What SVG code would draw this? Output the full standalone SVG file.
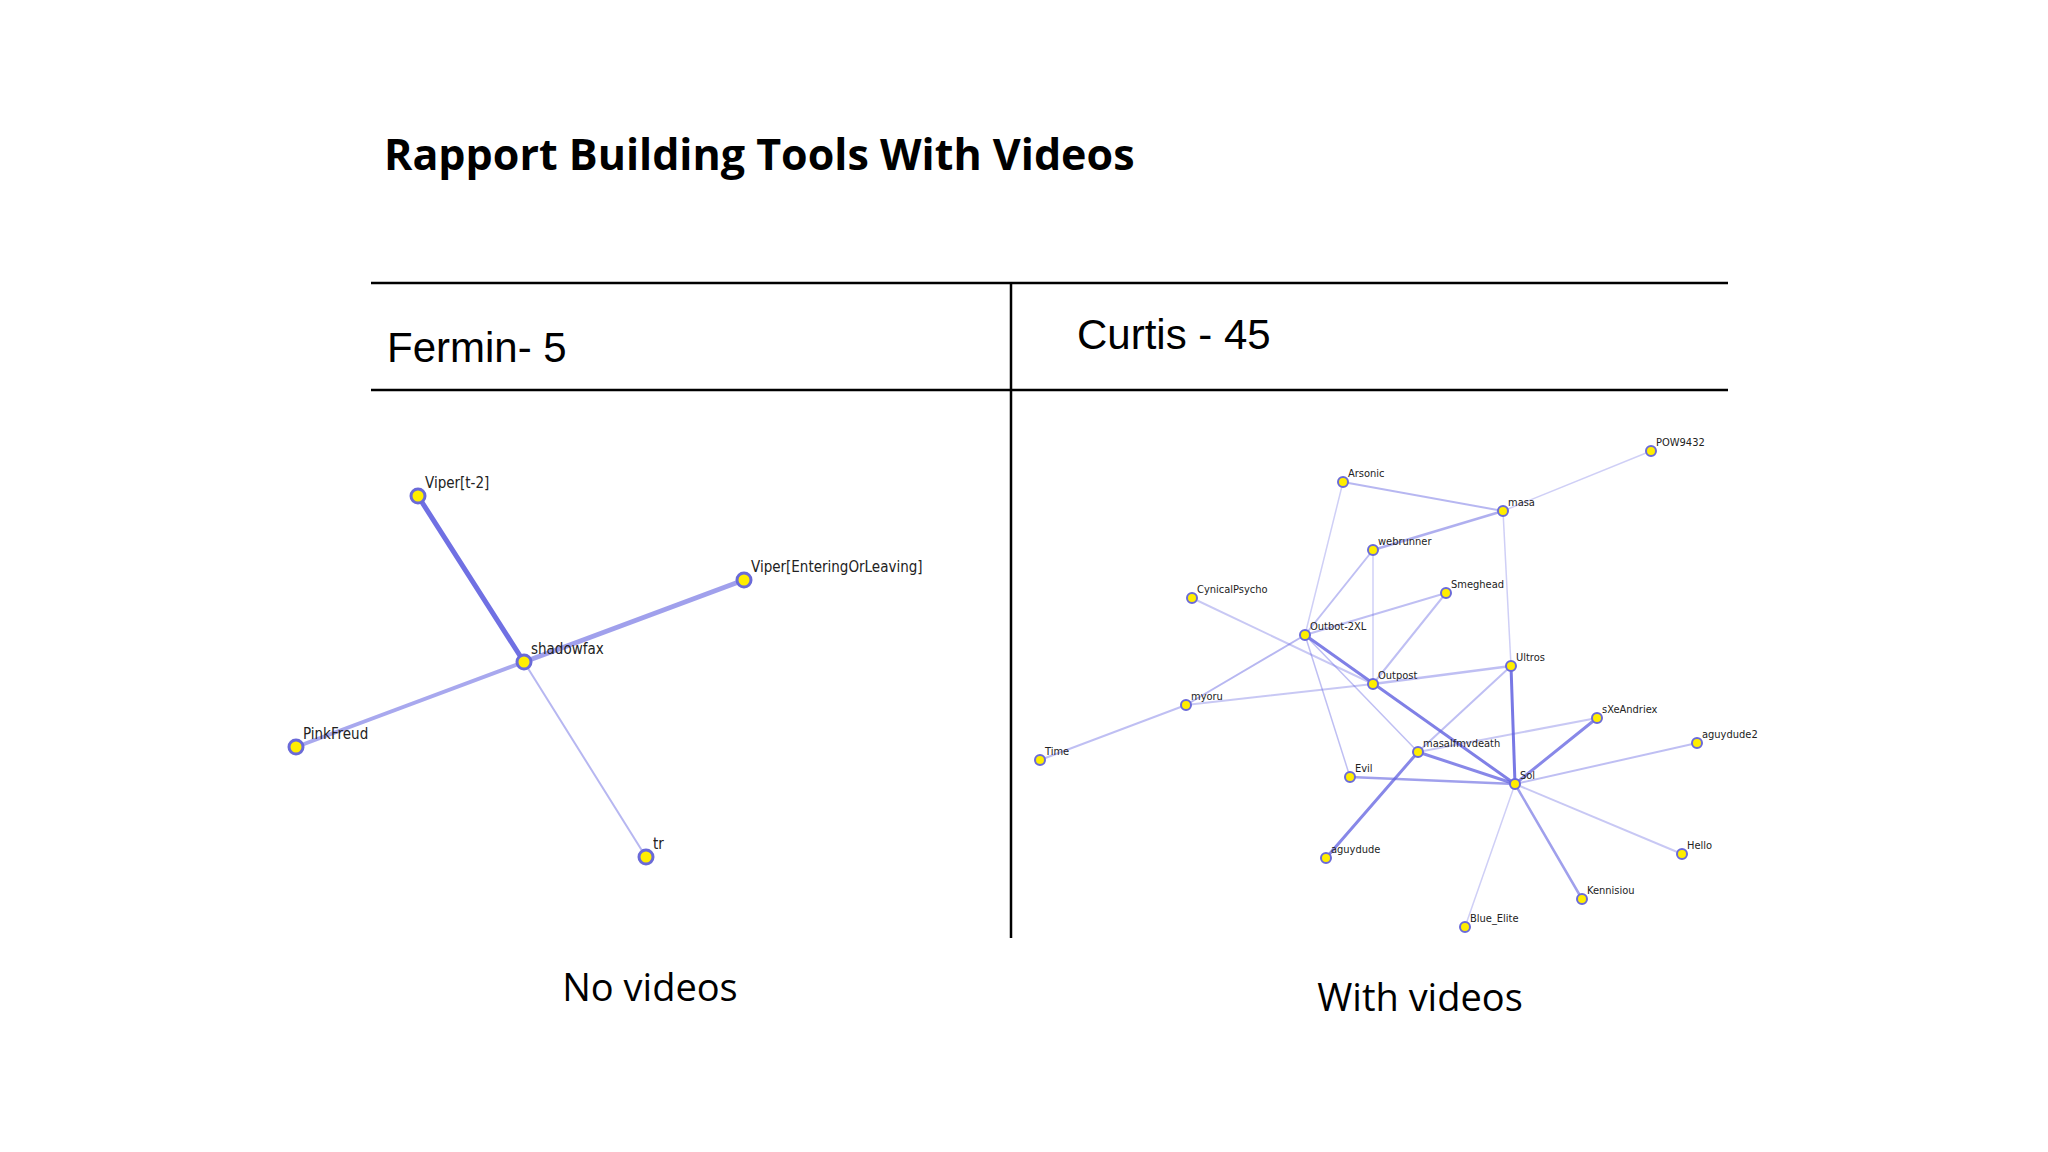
<svg xmlns="http://www.w3.org/2000/svg" width="2048" height="1152" viewBox="0 0 2048 1152">
<style>
.t{font-family:"Liberation Sans",Arial,sans-serif;fill:#000}
.c{font-family:"Open Sans","Liberation Sans",sans-serif;fill:#000}
.lbl{font-family:"DejaVu Sans Condensed","Liberation Sans",sans-serif;fill:#222}
.n circle{fill:#ffee00;stroke:#6a6ad8}
.e line{stroke:#6060e0;stroke-linecap:round}
</style>
<rect width="2048" height="1152" fill="#fff"/>
<text x="384" y="170" class="c" font-size="43" font-weight="bold">Rapport Building Tools With Videos</text>
<g stroke="#000" stroke-width="2.5">
<line x1="371" y1="283" x2="1728" y2="283"/>
<line x1="371" y1="390" x2="1728" y2="390"/>
<line x1="1011" y1="283" x2="1011" y2="938"/>
</g>
<text x="387" y="362" class="t" font-size="42">Fermin- 5</text>
<text x="1077" y="349" class="t" font-size="42">Curtis - 45</text>
<text x="650" y="1001" class="c" font-size="38" text-anchor="middle">No videos</text>
<text x="1420" y="1011" class="c" font-size="38" text-anchor="middle">With videos</text>

<g id="connectors" class="e">
<line x1="524" y1="662" x2="418" y2="496" stroke-width="5" stroke-opacity="0.9"/>
<line x1="524" y1="662" x2="744" y2="580" stroke-width="5" stroke-opacity="0.6"/>
<line x1="524" y1="662" x2="296" y2="747" stroke-width="4" stroke-opacity="0.55"/>
<line x1="524" y1="662" x2="646" y2="857" stroke-width="2" stroke-opacity="0.45"/>

<line x1="1343" y1="482" x2="1503" y2="511" stroke-width="2" stroke-opacity="0.45"/>
<line x1="1503" y1="511" x2="1651" y2="451" stroke-width="1.5" stroke-opacity="0.3"/>
<line x1="1503" y1="511" x2="1373" y2="550" stroke-width="2.5" stroke-opacity="0.5"/>
<line x1="1503" y1="511" x2="1511" y2="666" stroke-width="1.5" stroke-opacity="0.3"/>
<line x1="1343" y1="482" x2="1305" y2="635" stroke-width="1.5" stroke-opacity="0.3"/>
<line x1="1373" y1="550" x2="1305" y2="635" stroke-width="2" stroke-opacity="0.4"/>
<line x1="1373" y1="550" x2="1373" y2="684" stroke-width="1.5" stroke-opacity="0.3"/>
<line x1="1446" y1="593" x2="1305" y2="635" stroke-width="2" stroke-opacity="0.4"/>
<line x1="1446" y1="593" x2="1373" y2="684" stroke-width="2" stroke-opacity="0.4"/>
<line x1="1192" y1="598" x2="1373" y2="684" stroke-width="2" stroke-opacity="0.35"/>
<line x1="1305" y1="635" x2="1515" y2="784" stroke-width="3" stroke-opacity="0.8"/>
<line x1="1305" y1="635" x2="1418" y2="752" stroke-width="1.5" stroke-opacity="0.4"/>
<line x1="1305" y1="635" x2="1350" y2="777" stroke-width="1.5" stroke-opacity="0.4"/>
<line x1="1305" y1="635" x2="1186" y2="705" stroke-width="2" stroke-opacity="0.45"/>
<line x1="1186" y1="705" x2="1373" y2="684" stroke-width="2" stroke-opacity="0.35"/>
<line x1="1373" y1="684" x2="1511" y2="666" stroke-width="2.5" stroke-opacity="0.4"/>
<line x1="1186" y1="705" x2="1040" y2="760" stroke-width="2" stroke-opacity="0.4"/>
<line x1="1511" y1="666" x2="1515" y2="784" stroke-width="3" stroke-opacity="0.85"/>
<line x1="1511" y1="666" x2="1418" y2="752" stroke-width="2" stroke-opacity="0.4"/>
<line x1="1418" y1="752" x2="1597" y2="718" stroke-width="2" stroke-opacity="0.35"/>
<line x1="1418" y1="752" x2="1515" y2="784" stroke-width="3" stroke-opacity="0.75"/>
<line x1="1418" y1="752" x2="1326" y2="858" stroke-width="3" stroke-opacity="0.75"/>
<line x1="1597" y1="718" x2="1515" y2="784" stroke-width="3" stroke-opacity="0.75"/>
<line x1="1515" y1="784" x2="1697" y2="743" stroke-width="2" stroke-opacity="0.4"/>
<line x1="1515" y1="784" x2="1350" y2="777" stroke-width="2.5" stroke-opacity="0.6"/>
<line x1="1515" y1="784" x2="1682" y2="854" stroke-width="2" stroke-opacity="0.35"/>
<line x1="1515" y1="784" x2="1582" y2="899" stroke-width="2.5" stroke-opacity="0.6"/>
<line x1="1515" y1="784" x2="1465" y2="927" stroke-width="1.5" stroke-opacity="0.3"/>
</g>

<g class="n" stroke-width="3">
<g id="n-viper-t2"><circle cx="418" cy="496" r="7" stroke-width="3"/><text x="425" y="488" class="lbl" font-size="15">Viper[t-2]</text></g>
<g id="n-shadowfax"><circle cx="524" cy="662" r="7" stroke-width="3"/><text x="531" y="654" class="lbl" font-size="15">shadowfax</text></g>
<g id="n-viper-eol"><circle cx="744" cy="580" r="7" stroke-width="3"/><text x="751" y="572" class="lbl" font-size="15">Viper[EnteringOrLeaving]</text></g>
<g id="n-pinkfreud"><circle cx="296" cy="747" r="7" stroke-width="3"/><text x="303" y="739" class="lbl" font-size="15">PinkFreud</text></g>
<g id="n-tr"><circle cx="646" cy="857" r="7" stroke-width="3"/><text x="653" y="849" class="lbl" font-size="15">tr</text></g>
</g>

<g class="n">
<g id="n-pow9432"><circle cx="1651" cy="451" r="5" stroke-width="2"/><text x="1656" y="446" class="lbl" font-size="11">POW9432</text></g>
<g id="n-arsonic"><circle cx="1343" cy="482" r="5" stroke-width="2"/><text x="1348" y="477" class="lbl" font-size="11">Arsonic</text></g>
<g id="n-masa"><circle cx="1503" cy="511" r="5" stroke-width="2"/><text x="1508" y="506" class="lbl" font-size="11">masa</text></g>
<g id="n-webrunner"><circle cx="1373" cy="550" r="5" stroke-width="2"/><text x="1378" y="545" class="lbl" font-size="11">webrunner</text></g>
<g id="n-cynicalpsycho"><circle cx="1192" cy="598" r="5" stroke-width="2"/><text x="1197" y="593" class="lbl" font-size="11">CynicalPsycho</text></g>
<g id="n-smeghead"><circle cx="1446" cy="593" r="5" stroke-width="2"/><text x="1451" y="588" class="lbl" font-size="11">Smeghead</text></g>
<g id="n-outbot"><circle cx="1305" cy="635" r="5" stroke-width="2"/><text x="1310" y="630" class="lbl" font-size="11">Outbot-2XL</text></g>
<g id="n-ultros"><circle cx="1511" cy="666" r="5" stroke-width="2"/><text x="1516" y="661" class="lbl" font-size="11">Ultros</text></g>
<g id="n-outpost"><circle cx="1373" cy="684" r="5" stroke-width="2"/><text x="1378" y="679" class="lbl" font-size="11">Outpost</text></g>
<g id="n-myoru"><circle cx="1186" cy="705" r="5" stroke-width="2"/><text x="1191" y="700" class="lbl" font-size="11">myoru</text></g>
<g id="n-sxeandriex"><circle cx="1597" cy="718" r="5" stroke-width="2"/><text x="1602" y="713" class="lbl" font-size="11">sXeAndriex</text></g>
<g id="n-aguydude2"><circle cx="1697" cy="743" r="5" stroke-width="2"/><text x="1702" y="738" class="lbl" font-size="11">aguydude2</text></g>
<g id="n-time"><circle cx="1040" cy="760" r="5" stroke-width="2"/><text x="1045" y="755" class="lbl" font-size="11">Time</text></g>
<g id="n-masalfmvdeath"><circle cx="1418" cy="752" r="5" stroke-width="2"/><text x="1423" y="747" class="lbl" font-size="11">masalfmvdeath</text></g>
<g id="n-evil"><circle cx="1350" cy="777" r="5" stroke-width="2"/><text x="1355" y="772" class="lbl" font-size="11">Evil</text></g>
<g id="n-sol"><circle cx="1515" cy="784" r="5" stroke-width="2"/><text x="1520" y="779" class="lbl" font-size="11">Sol</text></g>
<g id="n-aguydude"><circle cx="1326" cy="858" r="5" stroke-width="2"/><text x="1331" y="853" class="lbl" font-size="11">aguydude</text></g>
<g id="n-hello"><circle cx="1682" cy="854" r="5" stroke-width="2"/><text x="1687" y="849" class="lbl" font-size="11">Hello</text></g>
<g id="n-kennisiou"><circle cx="1582" cy="899" r="5" stroke-width="2"/><text x="1587" y="894" class="lbl" font-size="11">Kennisiou</text></g>
<g id="n-blue-elite"><circle cx="1465" cy="927" r="5" stroke-width="2"/><text x="1470" y="922" class="lbl" font-size="11">Blue_Elite</text></g>
</g>
</svg>
